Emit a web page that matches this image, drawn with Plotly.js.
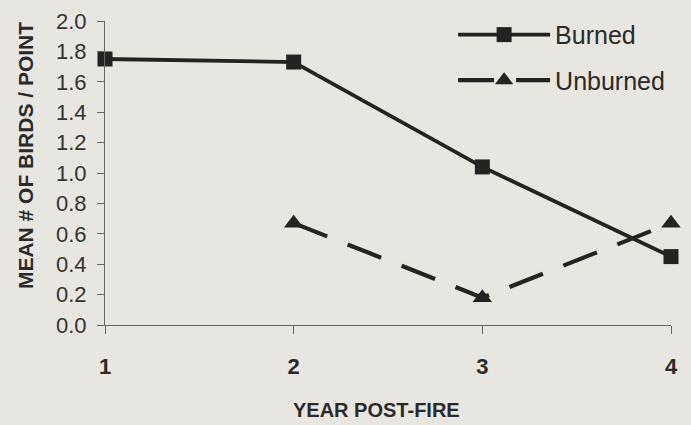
<!DOCTYPE html>
<html><head><meta charset="utf-8">
<script src="https://cdn.plot.ly/plotly-3.0.1.min.js"></script>
<style>html,body{margin:0;padding:0;background:#e8e6e0;}</style>
</head><body>
<div id="chart" style="width:691px;height:425px;"></div>
<script>
const years = [1, 2, 3, 4];
const burned = [1.75, 1.73, 1.04, 0.45];
const unburnedYears = [2, 3, 4];
const unburned = [0.67, 0.18, 0.67];
const yTicks = [0, 0.2, 0.4, 0.6, 0.8, 1.0, 1.2, 1.4, 1.6, 1.8, 2.0];
const seriesNames = ['Burned', 'Unburned'];
const xTitle = 'YEAR POST-FIRE';
const yTitle = 'MEAN # OF BIRDS / POINT';

const ink = '#232323';
const fam = 'Liberation Sans, Arial, sans-serif';
const traces = [
  {x: years, y: burned, name: seriesNames[0], type: 'scatter', mode: 'lines+markers',
   legendgroup: 'a', cliponaxis: false,
   line: {color: ink, width: 3.8}, marker: {symbol: 'square', size: 15, color: ink}},
  {x: unburnedYears, y: unburned, name: seriesNames[1], type: 'scatter', mode: 'lines+markers',
   legendgroup: 'b', cliponaxis: false,
   line: {color: ink, width: 4.2, dash: '36px,22px'}, marker: {symbol: 'triangle-up', size: 17, color: ink}}
];
const layout = {
  width: 691, height: 425,
  margin: {l: 105, r: 20, t: 19, b: 100},
  paper_bgcolor: '#e8e6e0', plot_bgcolor: '#e8e6e0',
  showlegend: true,
  legend: {x: 0.615, y: 1.03, xanchor: 'left', yanchor: 'top', bgcolor: 'rgba(0,0,0,0)',
    font: {family: fam, size: 25, color: '#2a2a2a'},
    itemwidth: 92, tracegroupgap: 10},
  xaxis: {range: [1, 4], tickvals: years, ticktext: years.map(String),
    showgrid: false, zeroline: false, showline: true, linecolor: '#666', linewidth: 1,
    ticks: 'outside', ticklen: 8, tickcolor: '#666', ticklabelstandoff: 14,
    tickfont: {family: fam, size: 22, color: '#2a2a2a', weight: 'bold'}},
  yaxis: {range: [0, 2], tickvals: yTicks, tickformat: '.1f',
    showgrid: false, zeroline: false, showline: true, linecolor: '#666', linewidth: 1,
    ticks: 'outside', ticklen: 7, tickcolor: '#666', ticklabelstandoff: 6,
    tickfont: {family: fam, size: 22, color: '#333'}},
  xaxis2: {range: [1, 4], overlaying: 'x', anchor: 'y', tickvals: years, showticklabels: false,
    showgrid: false, zeroline: false, showline: false, ticks: 'inside', ticklen: 8, tickcolor: '#666'},
  yaxis2: {range: [0, 2], overlaying: 'y', anchor: 'x', side: 'left', tickvals: yTicks, showticklabels: false,
    showgrid: false, zeroline: false, showline: false, ticks: 'inside', ticklen: 7, tickcolor: '#666'},
  annotations: [
    {text: xTitle, xref: 'paper', yref: 'paper', x: (376 - 105) / 566, y: -(411 - 325) / 306,
     xanchor: 'center', yanchor: 'middle', showarrow: false,
     font: {family: fam, size: 20, color: '#2a2a2a', weight: 'bold'}},
    {text: yTitle, xref: 'paper', yref: 'paper', x: -(105 - 25) / 566, y: (325 - 155) / 306,
     xanchor: 'center', yanchor: 'middle', showarrow: false, textangle: -90,
     font: {family: fam, size: 21, color: '#2a2a2a', weight: 'bold'}}
  ]
};
Plotly.newPlot('chart', traces, layout, {displayModeBar: false, staticPlot: true});
</script>
</body></html>
